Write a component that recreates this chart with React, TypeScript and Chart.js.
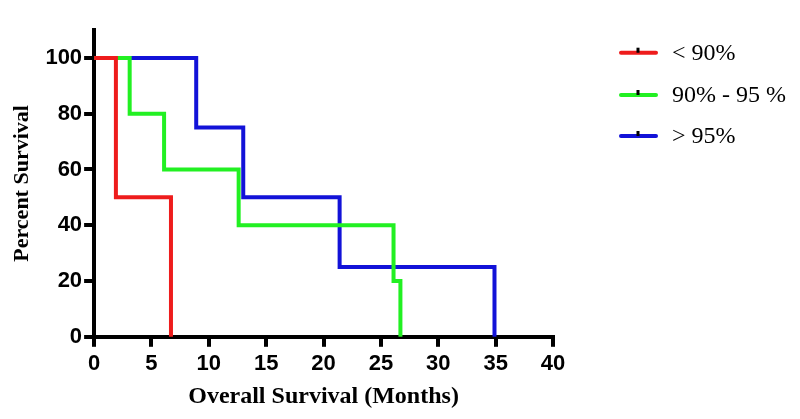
import React, { useEffect, useRef } from "react";
import { Chart, registerables } from "chart.js";

Chart.register(...registerables);

// Kaplan-Meier step points (months, percent survival)
const lowMonths = [0, 1.9, 6.7];
const lowSurvival = [100, 50, 0];
const midMonths = [0, 3.1, 6.1, 12.6, 26.1, 26.7];
const midSurvival = [100, 80, 60, 40, 20, 0];
const highMonths = [0, 8.9, 13.0, 21.4, 34.9];
const highSurvival = [100, 75, 50, 25, 0];

const seriesLabels = ["< 90%", "90% - 95 %", "> 95%"];
const seriesColors = ["#ee1c1c", "#22f022", "#1212d8"];

const xTitle = "Overall Survival (Months)";
const yTitle = "Percent Survival";

const toPoints = (xs: number[], ys: number[]) => xs.map((x, i) => ({ x, y: ys[i] }));

const legendPlugin = {
  id: "kmLegend",
  afterDraw(chart: any) {
    const ctx = chart.ctx;
    const rows = [44.7, 87, 128];
    ctx.save();
    seriesLabels.forEach((label, i) => {
      const y = rows[i];
      ctx.strokeStyle = seriesColors[i];
      ctx.lineWidth = 4;
      ctx.lineCap = "round";
      ctx.beginPath();
      ctx.moveTo(613, y);
      ctx.lineTo(648, y);
      ctx.stroke();
      ctx.fillStyle = "#000";
      ctx.fillRect(628.5, y - 5, 3, 5);
      ctx.font = "24px 'Liberation Serif', serif";
      ctx.textBaseline = "middle";
      ctx.textAlign = "left";
      ctx.fillText(label, 664, y + 1);
    });
    ctx.restore();
  },
};

export default function App() {
  const ref = useRef<HTMLCanvasElement | null>(null);
  useEffect(() => {
    if (!ref.current) return;
    const common = {
      showLine: true,
      stepped: "before" as const,
      borderWidth: 4,
      pointRadius: 0,
      fill: false,
      clip: false as any,
    };
    const tickFont = { family: "'Liberation Sans', Arial, sans-serif", size: 22, weight: "bold" as const };
    const chart = new Chart(ref.current, {
      type: "line",
      data: {
        datasets: [
          { ...common, label: seriesLabels[0], data: toPoints(lowMonths, lowSurvival), borderColor: seriesColors[0] },
          { ...common, label: seriesLabels[1], data: toPoints(midMonths, midSurvival), borderColor: seriesColors[1] },
          { ...common, label: seriesLabels[2], data: toPoints(highMonths, highSurvival), borderColor: seriesColors[2] },
        ],
      },
      options: {
        animation: false,
        responsive: true,
        maintainAspectRatio: false,
        layout: { padding: { top: 22, right: 239, left: 1, bottom: 0 } },
        plugins: { legend: { display: false }, tooltip: { enabled: false } },
        scales: {
          x: {
            type: "linear",
            min: 0,
            max: 40,
            border: { color: "#000", width: 4 },
            grid: { drawOnChartArea: false, color: "#000", lineWidth: 4, tickLength: 10 },
            ticks: {
              stepSize: 5,
              color: "#000",
              padding: 4,
              font: tickFont,
            },
            title: {
              display: true,
              text: xTitle,
              color: "#000",
              padding: { top: 1, bottom: 0 },
              font: { family: "'Liberation Serif', serif", size: 24, weight: "bold" },
            },
          },
          y: {
            type: "linear",
            min: 0,
            max: 110,
            afterBuildTicks: (scale: any) => {
              scale.ticks = scale.ticks.filter((t: any) => t.value <= 100);
            },
            border: { color: "#000", width: 4 },
            grid: { drawOnChartArea: false, color: "#000", lineWidth: 4, tickLength: 10 },
            ticks: {
              stepSize: 20,
              color: "#000",
              padding: 2,
              font: tickFont,
            },
            title: {
              display: true,
              text: yTitle,
              color: "#000",
              padding: { top: 0, bottom: 8 },
              font: { family: "'Liberation Serif', serif", size: 22, weight: "bold" },
            },
          },
        },
      },
      plugins: [legendPlugin],
    });
    return () => chart.destroy();
  }, []);
  return (
    <div style={{ width: 784, height: 403, position: "relative" }}>
      <canvas ref={ref} />
    </div>
  );
}
